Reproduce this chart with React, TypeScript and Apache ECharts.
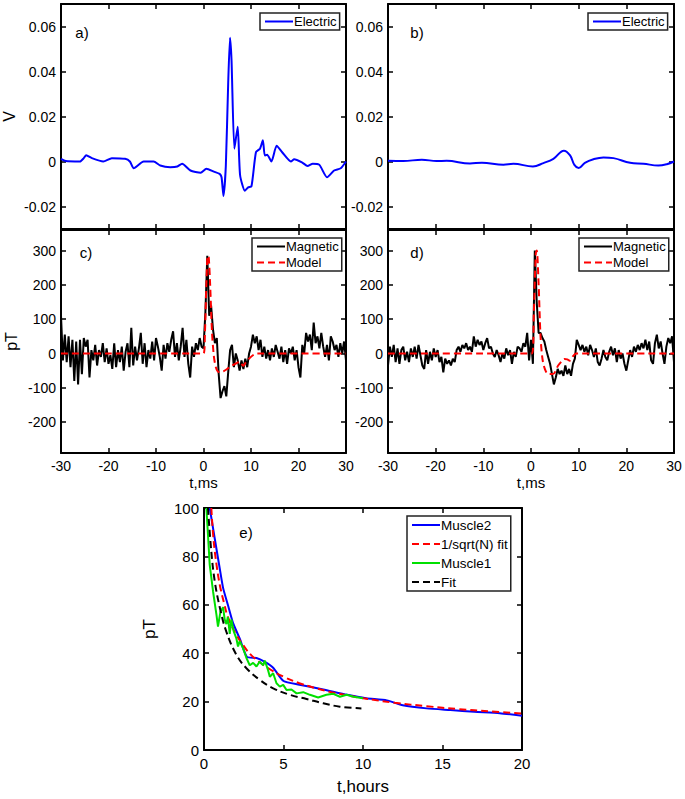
import React, { useEffect, useRef } from "react";
import * as echarts from "echarts";

const FONT = "'Liberation Sans', Arial, Helvetica, sans-serif";

// ---------- Panel a: electric (V) vs t (ms) ----------
const elecATime = [-30, -29, -26, -25.2, -24.7, -23.5, -21.1, -19.3, -16.5, -15.5, -14.7, -12.6, -10.5, -9.1, -7.0, -5.5, -4.5, -2.75, -0.6, 0.6, 2.2, 3.4, 3.8, 4.2, 4.7, 5.2, 5.58, 5.9, 6.5, 7.2, 7.7, 8.7, 9.4, 10.1, 11.05, 11.9, 12.5, 12.9, 13.4, 14.3, 15.4, 16.6, 18.4, 19.1, 20.8, 21.9, 23.0, 24.4, 26.0, 27.5, 28.9, 30.0];
const elecAVolt = [0.0012, 0.0002, 0.0, 0.0015, 0.0028, 0.0015, 0.0, 0.0015, 0.0012, 0.0, -0.003, 0.0, 0.0, -0.0018, -0.0025, -0.0022, -0.001, -0.004, -0.005, -0.0032, -0.0045, -0.0055, -0.007, -0.0153, -0.002, 0.035, 0.055, 0.045, 0.0057, 0.0155, -0.006, -0.013, -0.0115, -0.011, 0.0042, 0.0057, 0.0095, 0.0027, 0.003, 0.0, 0.007, 0.004, 0.0, 0.001, -0.0005, -0.002, -0.001, -0.0015, -0.007, -0.004, -0.003, 0.0];

// ---------- Panel b: electric (V) vs t (ms) ----------
const elecBTime = [-30, -26.8, -22.9, -19.8, -17.7, -12.8, -10.3, -5.8, -3.7, 0.4, 2.6, 4.7, 6.9, 8.2, 9.1, 10.0, 11.3, 13.1, 15.2, 17.3, 20.8, 23.6, 26.7, 28.5, 30];
const elecBVolt = [0.0003, 0.0002, 0.0008, 0.0002, 0.0003, -0.0009, -0.0005, -0.0014, -0.001, -0.0022, -0.0007, 0.0012, 0.0048, 0.0027, -0.0015, -0.0029, -0.0006, 0.001, 0.0018, 0.0015, -0.0006, -0.001, -0.0018, -0.0012, 0.0];

// ---------- Panels c/d: magnetic (pT), sampled every 0.4 ms from -30 ms ----------
const magStart = -30;
const magStep = 0.4;
const magC = [
  110, -20, 55, -25, 50, -40, 40, -80, 35, -90,
  40, -60, 45, 20, 40, -70, 10, -20, 25, -35,
  10, -10, 30, -25, 15, -30, -5, -45, 30, -40,
  10, -25, 20, -50, 5, 30, -40, 75, -35, 20,
  -20, 15, 60, -30, 30, -40, 10, -15, 35, -20,
  45, 20, -10, -50, 25, -15, 30, 5, 40, 65,
  -10, 30, -20, 20, 75, -10, 40, -30, -70, 20,
  -10, 30, 10, 45, 20, 15, 120, 285, 110, 140,
  70, 30, 45, -60, -130, -110, -95, -125, -55, 10,
  25, -40, 0, -20, -50, -20, -45, -15, -40, 0,
  20, 55, 30, 50, 10, 40, -10, 20, -15, 10,
  -20, 15, -10, 25, 5, -15, 20, -25, 10, -30,
  15, 0, 20, -20, 10, -40, -70, 25, 0, 60,
  35, 55, 10, 90, 30, 50, 15, 60, 20, -10,
  25, -20, 50, 35, 10, 25, -10, 30, 0, 35,
  -20,
];
const magD = [
  -35, 20, -10, 25, -25, 15, -30, 10, 20, -20,
  5, -25, 15, -10, 20, -15, 25, -5, -35, -45,
  10, -30, 5, -20, 15, -10, 10, -25, -10, -55,
  -15, -30, -20, -35, -15, -25, 10, 20, 5, 25,
  15, 30, 10, 20, 5, 50, 20, 40, 25, 35,
  10, 30, 45, 15, 20, 0, -10, 10, -5, -25,
  0, -15, 15, -5, 10, -30, 5, -10, 20, 15,
  5, 30, 20, 60, -20, 40, -30, 300, 150, 60,
  60, 45, 35, 10, -10, -30, -60, -90, -70, -45,
  -60, -50, -65, -35, -60, -45, -65, -30, -15, 40,
  25, 10, 25, 5, 20, -5, 25, 10, -10, 15,
  -25, -35, -15, 10, -10, -20, 5, 20, -5, 15,
  -25, 10, -15, 0, -30, -50, -20, 10, -10, 20,
  5, 25, 10, 30, 15, 40, 10, 35, -20, -30,
  30, 55, 15, 35, 0, -30, 20, 45, 30, 50,
  -25,
];
const modelCTime = [-30, 0.0, 0.3, 0.6, 0.9, 1.1, 1.4, 1.8, 2.2, 2.6, 3.0, 3.5, 4.2, 5.0, 6.0, 7.0, 7.6, 8.0, 8.4, 8.8, 9.6, 10.4, 11.2, 30];
const modelCVal = [0, 0, 60, 200, 285, 280, 200, 60, -10, -40, -52, -55, -52, -45, -35, -28, -24, -30, -36, -28, -15, -5, 0, 0];
const modelDTime = [-30, 0.2, 0.6, 1.0, 1.2, 1.6, 2.0, 2.4, 2.9, 3.6, 4.6, 5.7, 6.5, 7.0, 7.6, 8.1, 8.8, 9.5, 30];
const modelDVal = [0, 0, 120, 290, 300, 200, 50, -15, -45, -60, -60, -35, -22, -16, -17, -21, -8, 0, 0];

// ---------- Panel e: pT vs t (hours) ----------
const muscle2Hours = [0.36, 0.67, 0.99, 1.2, 1.5, 1.83, 2.25, 2.7, 3.3, 3.8, 4.35, 5.0, 6.0, 7.5, 9.0, 10.2, 11.5, 12.5, 14, 15.5, 17, 18.6, 20];
const muscle2PT = [100, 87.6, 75, 67, 60, 52.4, 46, 38.5, 38, 36.5, 34, 28.5, 27, 25, 22.8, 21.4, 20.5, 18.5, 17.2, 16.5, 15.8, 15.2, 14.2];
const sqrtFitHours = [0.46, 0.6, 0.8, 1.0, 1.25, 1.5, 2.0, 2.5, 3, 4, 5, 6, 7, 8, 9, 10, 12, 14, 16, 18, 20];
const sqrtFitPT = [100, 87, 76, 68, 61, 55, 48, 43, 39, 34, 30.3, 27.6, 25.6, 23.9, 22.6, 21.4, 19.5, 18.1, 16.9, 16, 15.1];
const muscle1Hours = [0.15, 0.25, 0.36, 0.57, 0.78, 0.88, 1.03, 1.2, 1.3, 1.41, 1.5, 1.62, 1.72, 1.87, 2.04, 2.14, 2.25, 2.46, 2.67, 2.88, 3.09, 3.3, 3.5, 3.72, 3.82, 4.03, 4.14, 4.35, 4.56, 4.77, 4.98, 5.19, 5.5, 5.82, 6.24, 6.66, 7.18, 7.7, 8.13, 8.55, 8.97, 9.4, 10.0];
const muscle1PT = [100, 89, 76.5, 65.5, 56, 51, 57, 59, 54, 52, 55, 48, 54, 49, 46, 42.8, 45, 42, 38, 35, 36, 34.5, 36.5, 35, 37, 33, 30.3, 31.7, 27.6, 26.2, 26.9, 24.8, 25, 23.4, 23.9, 22.8, 21.7, 22.8, 23.2, 22, 22.8, 22, 21.4];
const fitHours = [0.25, 0.46, 0.67, 0.99, 1.4, 2.04, 2.67, 3.5, 4.35, 5.4, 6.45, 7.5, 8.55, 9.9];
const fitPT = [100, 82, 70, 59, 49, 39.3, 33.8, 29, 25.5, 22.8, 21.1, 19.3, 17.9, 17.2];

// ---------- Tick labels ----------
const msTicks = [-30, -20, -10, 0, 10, 20, 30];
const voltTicks = [-0.02, 0, 0.02, 0.04, 0.06];
const pTTicks = [-200, -100, 0, 100, 200, 300];
const hourTicks = [0, 5, 10, 15, 20];
const pTeTicks = [0, 20, 40, 60, 80, 100];

const pairs = (xs: number[], ys: number[]) => xs.map((x, i) => [x, ys[i]]);
const magPairs = (ys: number[]) => ys.map((y, i) => [+(magStart + i * magStep).toFixed(2), y]);

const BLACK = "#000";

function xAxisPair(gi: number, min: number, max: number, ticks: number[], showLabels: boolean, name: string, nameGap: number, fontSize: number, nameSize: number) {
  const line = { show: true, onZero: false, lineStyle: { color: BLACK, width: 2 } };
  const tick = { show: true, inside: true, length: 5, customValues: ticks, lineStyle: { color: BLACK, width: 1.5 } };
  return [
    {
      type: "value", gridIndex: gi, position: "bottom", min, max,
      axisLine: line, axisTick: tick,
      axisLabel: { show: showLabels, customValues: ticks, color: BLACK, fontSize, fontFamily: FONT, margin: 6 },
      splitLine: { show: false },
      name, nameLocation: "middle", nameGap,
      nameTextStyle: { color: BLACK, fontSize: nameSize, fontFamily: FONT },
    },
    {
      type: "value", gridIndex: gi, position: "top", min, max,
      axisLine: line, axisTick: tick,
      axisLabel: { show: false }, splitLine: { show: false },
    },
  ];
}

function yAxisPair(gi: number, min: number, max: number, ticks: number[], name: string, nameGap: number, fontSize: number, nameSize: number, digits: number) {
  const line = { show: true, onZero: false, lineStyle: { color: BLACK, width: 2 } };
  const tick = { show: true, inside: true, length: 5, customValues: ticks, lineStyle: { color: BLACK, width: 1.5 } };
  return [
    {
      type: "value", gridIndex: gi, position: "left", min, max,
      axisLine: line, axisTick: tick,
      axisLabel: {
        show: true, customValues: ticks, color: BLACK, fontSize, fontFamily: FONT, margin: 5,
        formatter: (v: number) => String(+v.toFixed(digits)),
      },
      splitLine: { show: false },
      name, nameLocation: "middle", nameGap,
      nameTextStyle: { color: BLACK, fontSize: nameSize, fontFamily: FONT },
    },
    {
      type: "value", gridIndex: gi, position: "right", min, max,
      axisLine: line, axisTick: tick,
      axisLabel: { show: false }, splitLine: { show: false },
    },
  ];
}

function line(name: string, data: number[][], gi: number, color: string, dashed: boolean, smooth: number | boolean = false) {
  return {
    type: "line", name, data, xAxisIndex: gi * 2, yAxisIndex: gi * 2,
    showSymbol: false, symbol: "none", smooth, clip: true,
    lineStyle: { color, width: 2, type: dashed ? [7, 4] : "solid" },
    itemStyle: { color },
  };
}

function legend(left: number, top: number, names: string[], fontSize: number, itemWidth: number, itemGap: number) {
  return {
    data: names, left, top, orient: "vertical", selectedMode: false,
    backgroundColor: "#fff", borderColor: "#222", borderWidth: 1.5, borderRadius: 0,
    padding: [2, 3, 2, 4], itemWidth, itemHeight: 14, itemGap,
    itemStyle: { opacity: 0 },
    textStyle: { color: BLACK, fontSize, fontFamily: FONT, padding: [0, 0, 0, -4] },
  };
}

function panelLabel(text: string, x: number, y: number, size: number) {
  return {
    type: "text", x, y, z: 10,
    style: { text, fill: BLACK, font: `${size}px ${FONT}`, align: "center", verticalAlign: "middle" },
  };
}

export default function App() {
  const ref = useRef<HTMLDivElement>(null);
  useEffect(() => {
    if (!ref.current) return;
    const chart = echarts.init(ref.current, null, { renderer: "svg" });
    const option = {
      animation: false,
      backgroundColor: "#fff",
      grid: [
        { left: 61, top: 4, width: 285, height: 225 },
        { left: 388, top: 4, width: 286, height: 225 },
        { left: 61, top: 230, width: 285, height: 223 },
        { left: 388, top: 230, width: 286, height: 223 },
        { left: 204, top: 508, width: 318, height: 242 },
      ],
      xAxis: [
        ...xAxisPair(0, -30, 30, msTicks, false, "", 0, 14, 15),
        ...xAxisPair(1, -30, 30, msTicks, false, "", 0, 14, 15),
        ...xAxisPair(2, -30, 30, msTicks, true, "t,ms", 22, 14, 15),
        ...xAxisPair(3, -30, 30, msTicks, true, "t,ms", 22, 14, 15),
        ...xAxisPair(4, 0, 20, hourTicks, true, "t,hours", 28, 15, 17),
      ],
      yAxis: [
        ...yAxisPair(0, -0.03, 0.07, voltTicks, "V", 44, 14, 16, 2),
        ...yAxisPair(1, -0.03, 0.07, voltTicks, "", 0, 14, 16, 2),
        ...yAxisPair(2, -290, 360, pTTicks, "pT", 42, 14, 16, 0),
        ...yAxisPair(3, -290, 360, pTTicks, "", 0, 14, 16, 0),
        ...yAxisPair(4, 0, 100, pTeTicks, "pT", 46, 15, 17, 0),
      ],
      legend: [
        legend(260, 13, ["Electric"], 13, 28, 3),
        legend(588, 13, ["Electric"], 13, 28, 3),
        legend(252, 238, ["Magnetic", "Model"], 13, 28, 3),
        legend(579, 238, ["Magnetic", "Model"], 13, 28, 3),
        legend(407, 516, ["Muscle2", "1/sqrt(N) fit", "Muscle1", "Fit"], 13.5, 28, 5),
      ],
      series: [
        line("Electric", pairs(elecATime, elecAVolt), 0, "#0000ff", false, 0.2),
        line("Electric", pairs(elecBTime, elecBVolt), 1, "#0000ff", false, 0.4),
        line("Magnetic", magPairs(magC), 2, "#000000", false),
        line("Model", pairs(modelCTime, modelCVal), 2, "#ff0000", true, 0.3),
        line("Magnetic", magPairs(magD), 3, "#000000", false),
        line("Model", pairs(modelDTime, modelDVal), 3, "#ff0000", true, 0.3),
        line("Muscle2", pairs(muscle2Hours, muscle2PT), 4, "#0000ff", false, 0.2),
        line("1/sqrt(N) fit", pairs(sqrtFitHours, sqrtFitPT), 4, "#ff0000", true, 0.4),
        line("Muscle1", pairs(muscle1Hours, muscle1PT), 4, "#00e000", false),
        line("Fit", pairs(fitHours, fitPT), 4, "#000000", true, 0.4),
      ],
      graphic: [
        panelLabel("a)", 82, 32, 15),
        panelLabel("b)", 417, 32, 15),
        panelLabel("c)", 86, 252, 15),
        panelLabel("d)", 417, 252, 15),
        panelLabel("e)", 246, 532, 15),
      ],
    };
    chart.setOption(option as any);
    return () => chart.dispose();
  }, []);
  return (
    <div
      ref={ref}
      style={{ position: "absolute", left: 0, top: 0, width: 685, height: 799, background: "#fff" }}
    />
  );
}
